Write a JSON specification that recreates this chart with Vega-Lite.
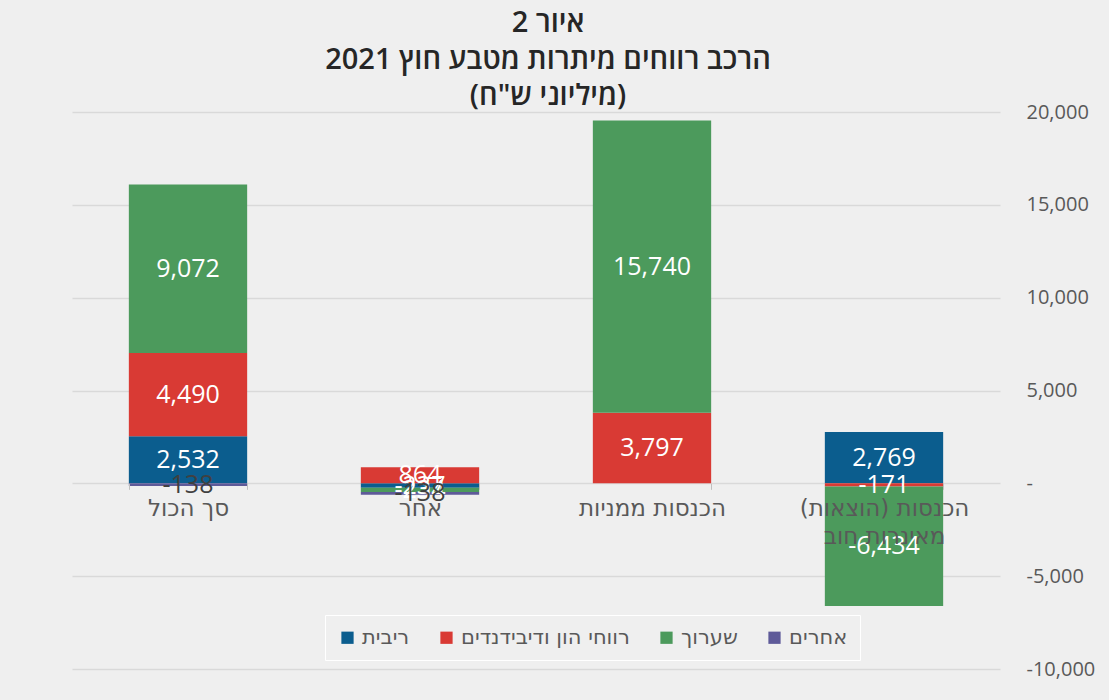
{
  "$schema": "https://vega.github.io/schema/vega-lite/v6.json",
  "width": 928,
  "height": 557,
  "autosize": {"type": "none"},
  "padding": {"left": 72, "top": 112, "right": 109, "bottom": 31},
  "background": "#efefef",
  "config": {
    "view": {"stroke": null},
    "font": "Open Sans",
    "locale": {"number": {"decimal": ".", "thousands": ",", "grouping": [3], "currency": ["$", ""], "minus": "-"}}
  },
  "title": {
    "text": ["איור 2", "הרכב רווחים מיתרות מטבע חוץ 2021", "(מיליוני ש\"ח)"],
    "fontSize": 29,
    "font": "Open Sans",
    "fontWeight": 600,
    "color": "#262626",
    "lineHeight": 36.5,
    "anchor": "middle",
    "frame": "group",
    "dx": 12,
    "offset": -9
  },
  "data": {
    "values": [
      {"cat": "סך הכול", "series": "ריבית", "ord": 1, "value": 2532},
      {"cat": "סך הכול", "series": "רווחי הון ודיבידנדים", "ord": 2, "value": 4490},
      {"cat": "סך הכול", "series": "שערוך", "ord": 3, "value": 9072},
      {"cat": "סך הכול", "series": "אחרים", "ord": 4, "value": -138},
      {"cat": "אחר", "series": "ריבית", "ord": 1, "value": -237},
      {"cat": "אחר", "series": "רווחי הון ודיבידנדים", "ord": 2, "value": 864},
      {"cat": "אחר", "series": "שערוך", "ord": 3, "value": -234},
      {"cat": "אחר", "series": "אחרים", "ord": 4, "value": -138},
      {"cat": "הכנסות ממניות", "series": "רווחי הון ודיבידנדים", "ord": 2, "value": 3797},
      {"cat": "הכנסות ממניות", "series": "שערוך", "ord": 3, "value": 15740},
      {"cat": "הכנסות (הוצאות)|מאינרות חוב", "series": "ריבית", "ord": 1, "value": 2769},
      {"cat": "הכנסות (הוצאות)|מאינרות חוב", "series": "רווחי הון ודיבידנדים", "ord": 2, "value": -171},
      {"cat": "הכנסות (הוצאות)|מאינרות חוב", "series": "שערוך", "ord": 3, "value": -6434}
    ]
  },
  "encoding": {
    "x": {
      "field": "cat",
      "type": "nominal",
      "sort": ["סך הכול", "אחר", "הכנסות ממניות", "הכנסות (הוצאות)|מאינרות חוב"],
      "scale": {"paddingInner": 0.49, "paddingOuter": 0.245},
      "axis": {
        "title": null,
        "orient": "bottom",
        "offset": -185.67,
        "domain": false,
        "ticks": true,
        "tickBand": "extent",
        "tickSize": 6,
        "tickColor": "#bfbfbf",
        "labelAngle": 0,
        "labelFont": "DejaVu Sans",
        "labelFontSize": 23,
        "labelColor": "#595959",
        "labelPadding": 8,
        "labelLineHeight": 28,
        "labelLimit": 300,
        "labelExpr": "split(datum.label, '|')",
        "zindex": 1
      }
    }
  },
  "layer": [
    {
      "mark": {"type": "bar"},
      "encoding": {
        "y": {
          "field": "value",
          "type": "quantitative",
          "stack": "zero",
          "scale": {"domain": [-10000, 20000], "nice": false},
          "axis": {
            "title": null,
            "orient": "right",
            "values": [-10000, -5000, 0, 5000, 10000, 15000, 20000],
            "grid": true,
            "gridColor": "#d9d9d9",
            "gridWidth": 1.5,
            "domain": false,
            "ticks": false,
            "labelPadding": 26,
            "labelAlign": "left",
            "labelFontSize": 20,
            "labelColor": "#595959",
            "labelExpr": "datum.value == 0 ? '-' : format(datum.value, ',')"
          }
        },
        "color": {
          "field": "series",
          "type": "nominal",
          "scale": {
            "domain": ["ריבית", "רווחי הון ודיבידנדים", "שערוך", "אחרים"],
            "range": ["#0b5d8e", "#d93a34", "#4c9a5c", "#5e5a99"]
          },
          "legend": {
            "title": null,
            "orient": "none",
            "legendX": 253,
            "legendY": 503,
            "direction": "horizontal",
            "symbolType": "square",
            "symbolSize": 150,
            "symbolStrokeWidth": 0,
            "labelFont": "DejaVu Sans",
            "labelFontSize": 21,
            "labelColor": "#595959",
            "labelLimit": 400,
            "columnPadding": 26,
            "padding": 12,
            "strokeColor": "#ffffff",
            "fillColor": "#efefef"
          }
        },
        "order": {"field": "ord", "type": "quantitative"}
      }
    },
    {
      "transform": [
        {"stack": "value", "groupby": ["cat"], "sort": [{"field": "ord", "order": "ascending"}], "as": ["v0", "v1"]},
        {"fold": ["v0", "v1"], "as": ["edge", "pos"]},
        {"aggregate": [{"op": "mean", "field": "pos", "as": "mid"}], "groupby": ["cat", "series", "ord", "value"]}
      ],
      "mark": {"type": "text", "fontSize": 25, "baseline": "middle", "align": "center"},
      "encoding": {
        "y": {"field": "mid", "type": "quantitative"},
        "text": {"field": "value", "type": "quantitative", "format": ","},
        "color": {
          "condition": {"test": "datum.series === 'אחרים'", "value": "#404040"},
          "value": "#ffffff"
        }
      }
    }
  ]
}
